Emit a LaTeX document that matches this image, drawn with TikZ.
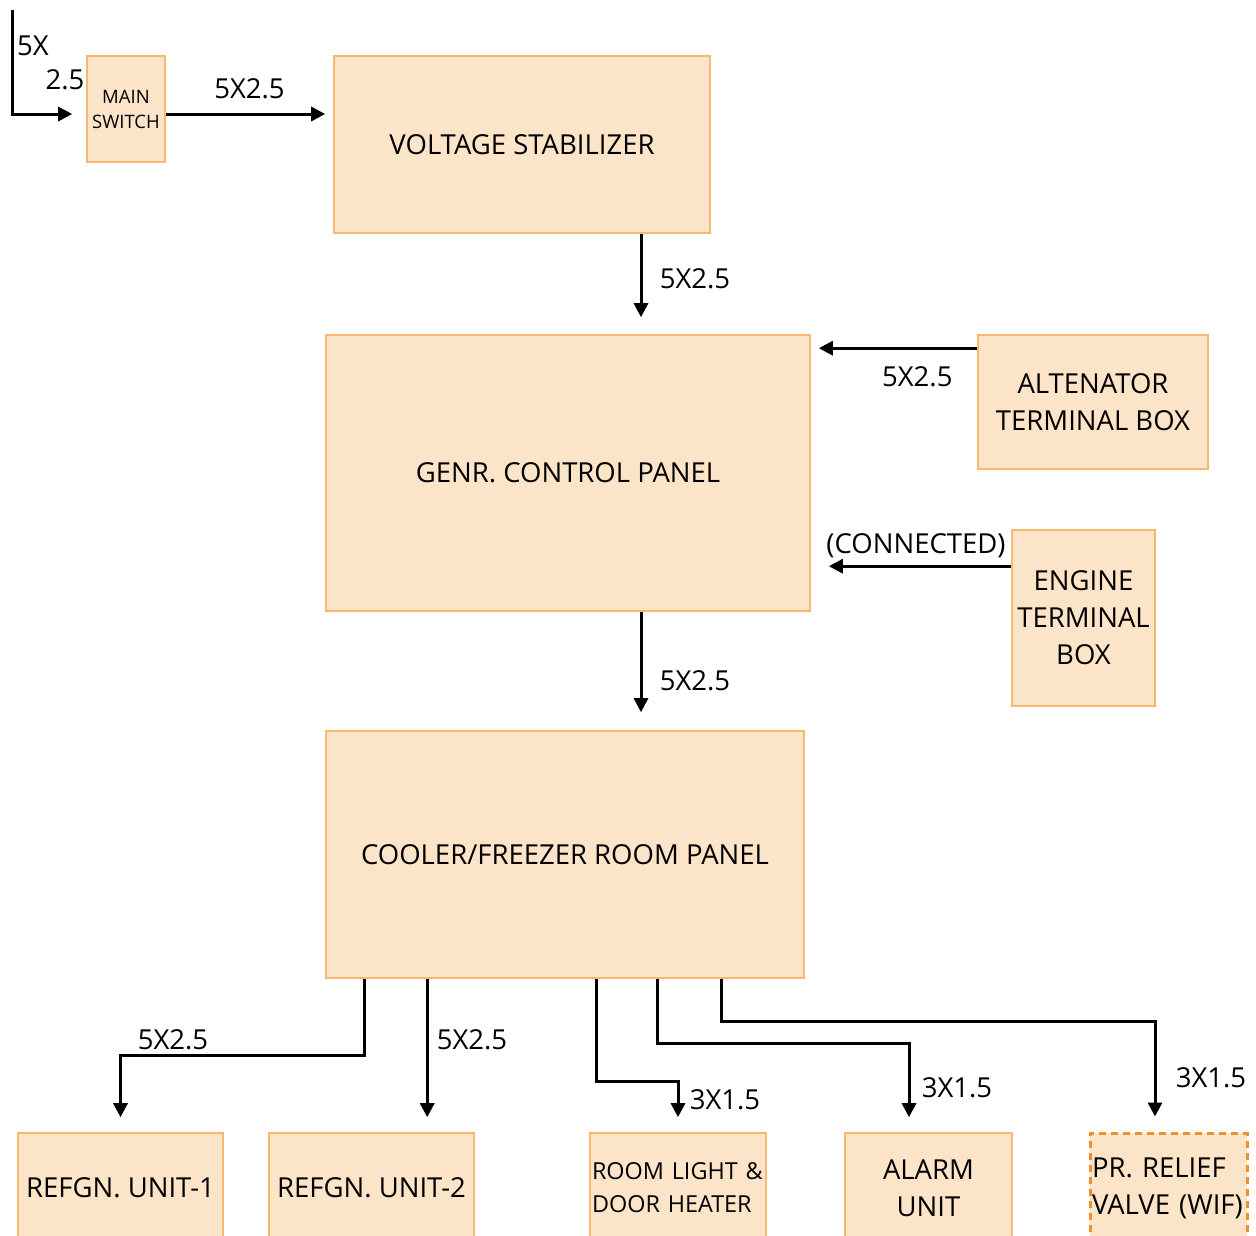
\documentclass[tikz,border=0pt]{standalone}
\usepackage{fontspec}
\setmainfont{Open Sans}
\usetikzlibrary{arrows.meta}
\begin{document}
\begin{tikzpicture}[
    x=1pt,y=-1pt,
    font=\fontsize{27.5}{37}\selectfont,
    box/.style={draw=boxline,fill=boxfill,line width=1.6pt,align=center,inner sep=2pt},
    wire/.style={line width=3pt,-{Triangle[length=14pt,width=14pt]}},
    lbl/.style={inner sep=0pt}
  ]
    \definecolor{boxfill}{HTML}{FCE4C8}
    \definecolor{boxline}{HTML}{F6B872}
    \definecolor{dashline}{HTML}{F0902C}
    \path[use as bounding box] (0,0) rectangle (1256,1235);
    % boxes
    \node[box,minimum width=78,minimum height=106,font=\fontsize{18.5}{25}\selectfont]
      (ms) at (126,109) {MAIN\\SWITCH};
    \node[box,minimum width=376,minimum height=177] (vs) at (522,144.5) {VOLTAGE STABILIZER};
    \node[box,minimum width=484,minimum height=276] (gcp) at (568,473) {GENR. CONTROL PANEL};
    \node[box,minimum width=230,minimum height=134] (alt) at (1093,402) {ALTENATOR\\TERMINAL BOX};
    \node[box,minimum width=143,minimum height=176] (etb) at (1083.5,618) {ENGINE\\TERMINAL\\BOX};
    \node[box,minimum width=478,minimum height=247] (cfp) at (565,854.5) {COOLER/FREEZER ROOM PANEL};
    \node[box,minimum width=205,minimum height=110] (ru1) at (120.5,1188) {REFGN. UNIT-1};
    \node[box,minimum width=205,minimum height=110] (ru2) at (371.5,1188) {REFGN. UNIT-2};
    \node[box,minimum height=110,text width=172,inner sep=2pt,align=left,
      font=\fontsize{23.4}{33}\selectfont] (rld) at (678,1188) {ROOM LIGHT \&\\DOOR HEATER};
    \node[box,minimum width=167,minimum height=110] (alu) at (928.5,1188) {ALARM\\UNIT};
    \node[box,draw=dashline,line width=3pt,dash pattern=on 7pt off 5pt,minimum height=110,
      text width=153,inner sep=2pt,align=left] (prv) at (1168.5,1188) {PR. RELIEF\\VALVE (WIF)};
    % supply
    \coordinate (src) at (12,10);
    \draw[wire,shorten >=14pt] (src) |- ([yshift=-5pt]ms.west);
    \node[lbl] (l0a) at (33,46) {5X};
    \node[lbl] (l0b) at (65,80) {2.5};
    \draw[wire,shorten >=8pt] ([yshift=-5pt]ms.east) -- ([yshift=-5pt]ms.east -| vs.west)
      node[midway,above=10pt] (l1) {5X2.5};
    \draw[wire,shorten >=17pt] ([xshift=119pt]vs.south) -- ([xshift=119pt]vs.south |- gcp.north)
      node[pos=.45,right=14pt] (l2) {5X2.5};
    \draw[wire,shorten >=8pt] ([yshift=-14pt]alt.north west) -- ([yshift=-14pt]alt.north west -| gcp.east)
      node[pos=.36,below=14pt] (l3) {5X2.5};
    \draw[wire,shorten >=18pt] ([yshift=-37pt]etb.north west) -- ([yshift=-37pt]etb.north west -| gcp.east)
      node[midway,above=4pt,xshift=5pt] (l4) {(CONNECTED)};
    \draw[wire,shorten >=18pt] ([xshift=73pt]gcp.south) -- ([xshift=73pt]gcp.south |- cfp.north)
      node[pos=.58,right=14pt] (l5) {5X2.5};
    % outgoing feeders
    \draw[wire,shorten >=15pt] ([xshift=39pt]cfp.south west) -- ++(0,77) -| (ru1.north);
    \draw[wire,shorten >=15pt] ([xshift=102pt]cfp.south west) -- ([xshift=102pt]cfp.south west |- ru2.north);
    \draw[wire,shorten >=15pt] ([xshift=271pt]cfp.south west) -- ++(0,103) -| (rld.north);
    \draw[wire,shorten >=15pt] ([xshift=332pt]cfp.south west) -- ++(0,65) -| ([xshift=-19.5pt]alu.north);
    \draw[wire,shorten >=15pt] ([xshift=396pt]cfp.south west) -- ++(0,43) -| ([xshift=-13.5pt]prv.north);
    \node[lbl] (l6) at (173,1040) {5X2.5};
    \node[lbl] (l7) at (472,1040) {5X2.5};
    \node[lbl] (l8) at (725,1100) {3X1.5};
    \node[lbl] (l9) at (957,1088) {3X1.5};
    \node[lbl] (l10) at (1211,1078) {3X1.5};
  \end{tikzpicture}
\end{document}
